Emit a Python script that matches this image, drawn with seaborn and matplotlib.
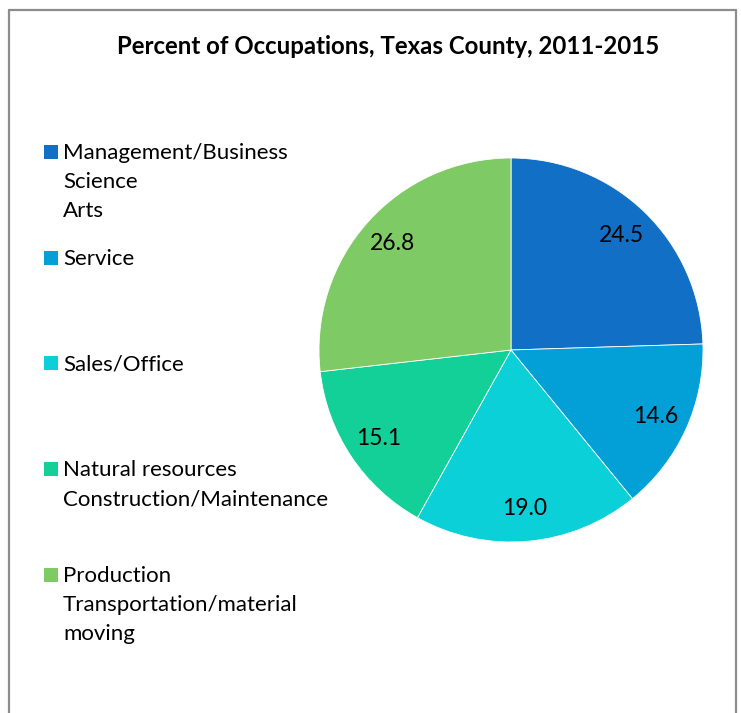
import matplotlib
matplotlib.use("Agg")
import matplotlib.pyplot as plt
import seaborn as sns
from matplotlib.patches import Rectangle
from matplotlib.lines import Line2D

sns.set_theme(style="white")
plt.rcParams['font.family'] = ['Lato', 'DejaVu Sans']

title = "Percent of Occupations, Texas County, 2011-2015"
categories = [
    "Management/Business\nScience\nArts",
    "Service",
    "Sales/Office",
    "Natural resources\nConstruction/Maintenance",
    "Production\nTransportation/material\nmoving",
]
values = [24.5, 14.6, 19.0, 15.1, 26.8]
colors = ["#1170C6", "#03A0D7", "#0CD0D8", "#12D098", "#7ECA64"]

W, H = 741, 713
fig = plt.figure(figsize=(W / 100, H / 100), dpi=100)

# pie axes
cx, cy, r = 511, 350, 192
ax = fig.add_axes([(cx - r) / W, (H - cy - r) / H, 2 * r / W, 2 * r / H])
val_iter = iter(values)
wedges, texts, autotexts = ax.pie(
    values, colors=colors, startangle=90, counterclock=False,
    autopct=lambda p: f"{next(val_iter):.1f}", pctdistance=0.83,
    wedgeprops=dict(linewidth=0.6, edgecolor="white"),
    textprops=dict(fontsize=16.5, color="black"),
)
ax.set_xlim(-1, 1)
ax.set_ylim(-1, 1)
ax.set_aspect("equal")

# title
fig.text(388 / W, 1 - 47 / H, title, ha="center", va="center",
         fontsize=17.3, fontweight="bold", color="black")

# legend (evenly spaced entries)
y0 = 152
step = 105.7
for i, (lab, col) in enumerate(zip(categories, colors)):
    y = y0 + i * step
    fig.add_artist(Rectangle(((44) / W, 1 - (y + 7) / H), 14 / W, 14 / H,
                             transform=fig.transFigure, facecolor=col,
                             edgecolor="none"))
    fig.text(63 / W, 1 - (y - 9) / H, lab, ha="left", va="top",
             fontsize=16, color="black", linespacing=1.56)

# frame
gray = "#8C8C8C"
lw = 1.6
fig.add_artist(Line2D([9 / W, 9 / W], [0, 1 - 10 / H], transform=fig.transFigure, color=gray, lw=lw))
fig.add_artist(Line2D([736 / W, 736 / W], [0, 1 - 10 / H], transform=fig.transFigure, color=gray, lw=lw))
fig.add_artist(Line2D([9 / W, 736 / W], [1 - 10 / H, 1 - 10 / H], transform=fig.transFigure, color=gray, lw=lw))

fig.savefig("out.png", dpi=100, facecolor="white")
